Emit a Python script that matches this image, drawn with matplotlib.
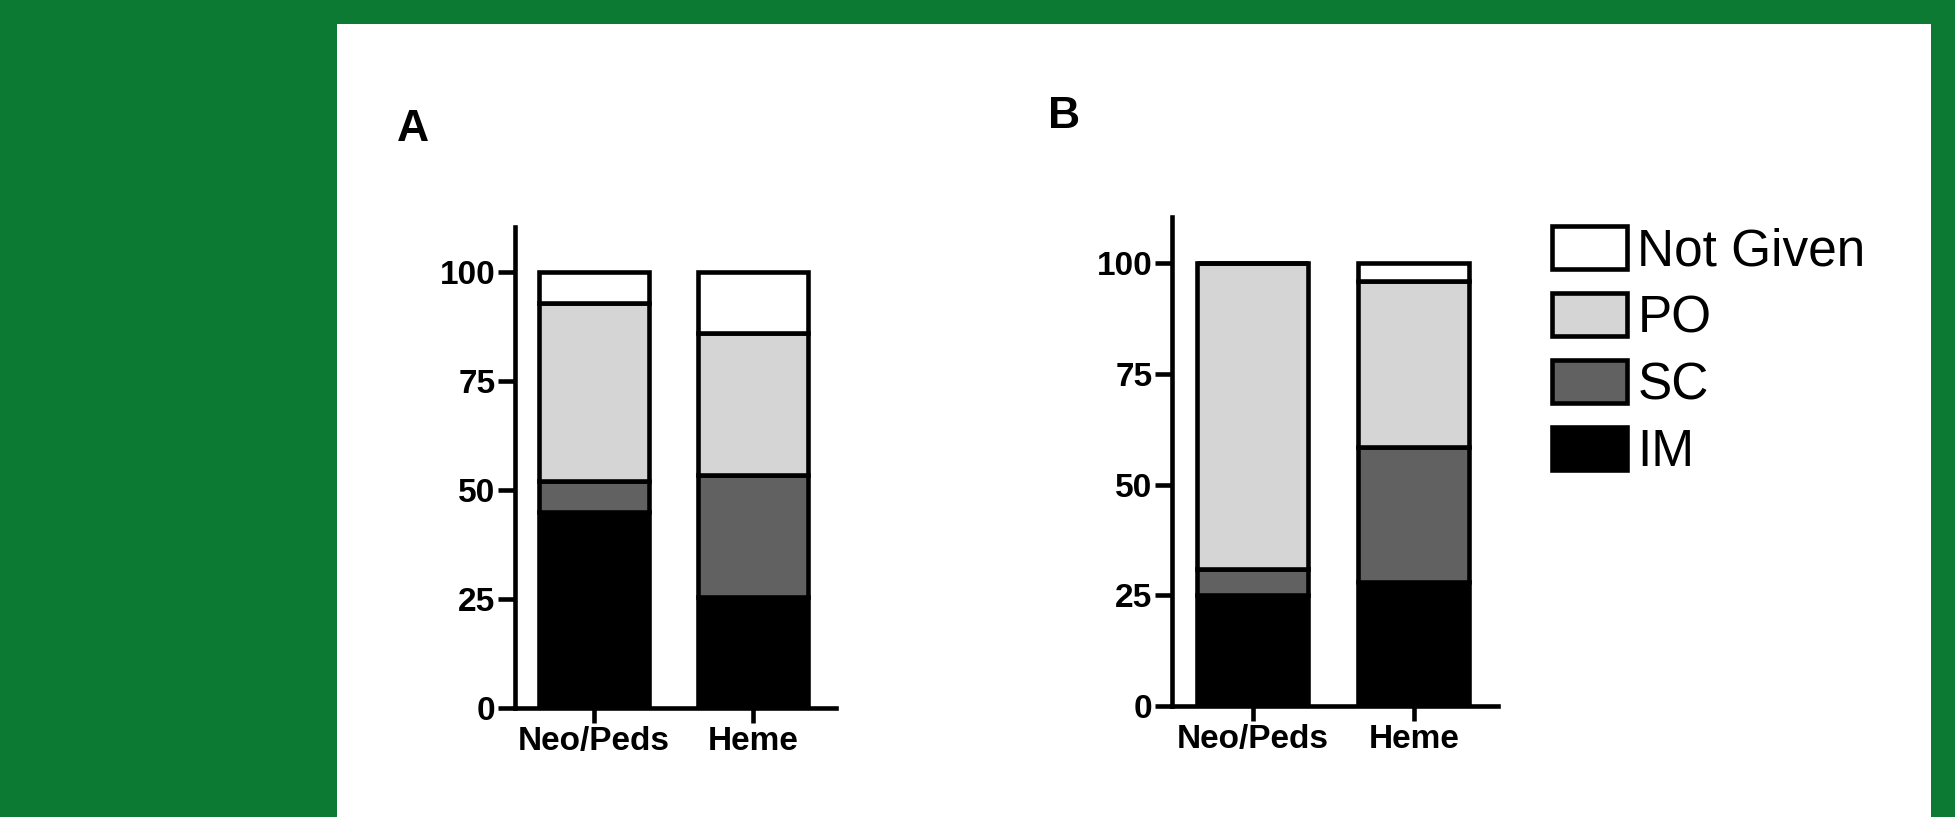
import matplotlib
matplotlib.use("Agg")
import matplotlib.pyplot as plt
from matplotlib.patches import Patch, Rectangle

plt.rcParams['font.family'] = ['Liberation Sans', 'DejaVu Sans']

categories = ["Neo/Peds", "Heme"]
series_names = ["IM", "SC", "PO", "Not Given"]
colors = ["#000000", "#616161", "#d5d5d5", "#ffffff"]

# Panel A values (percent)
a_im = [45, 25.5]
a_sc = [7, 28]
a_po = [41, 32.5]
a_ng = [7, 14]

# Panel B values (percent)
b_im = [25, 28]
b_sc = [6, 30.5]
b_po = [69, 37.5]
b_ng = [0, 4]

yticks = [0, 25, 50, 75, 100]

W, H = 1955, 817
fig = plt.figure(figsize=(W / 100, H / 100), dpi=100)
fig.patch.set_facecolor("#0c7a32")
bg = fig.add_axes([0, 0, 1, 1], zorder=-10)
bg.set_axis_off()
bg.set_xlim(0, 1)
bg.set_ylim(0, 1)
bg.add_patch(Rectangle((337 / W, 0), (1931 - 337) / W, (817 - 24) / H,
                       facecolor="white", edgecolor="none"))


def panel(px_left, px_right, px_bottom, px_top, data, xlim, ylim, width):
    rect = [px_left / W, (H - px_bottom) / H, (px_right - px_left) / W,
            (px_bottom - px_top) / H]
    ax = fig.add_axes(rect, zorder=1)
    ax.set_facecolor("none")
    x = list(range(len(categories)))
    bottoms = [0] * len(categories)
    for vals, c in zip(data, colors):
        ax.bar(x, vals, width=width, bottom=bottoms, color=c, edgecolor="black",
               linewidth=3.3, zorder=2)
        bottoms = [b + v for b, v in zip(bottoms, vals)]
    ax.set_xlim(*xlim)
    ax.set_ylim(*ylim)
    ax.set_yticks(yticks)
    ax.set_xticks(x)
    ax.set_xticklabels(categories)
    for s in ["top", "right"]:
        ax.spines[s].set_visible(False)
    for s in ["left", "bottom"]:
        ax.spines[s].set_linewidth(3.3)
    ax.tick_params(axis="y", length=12, width=3.3, pad=2, labelsize=24)
    ax.tick_params(axis="x", length=11, width=3.3, pad=2, labelsize=24)
    for lab in ax.get_xticklabels() + ax.get_yticklabels():
        lab.set_fontweight("bold")
    return ax


axA = panel(515, 836, 707.5, 226.7, [a_im, a_sc, a_po, a_ng],
            (-0.498, 1.525), (0, 110.5), 0.693)
axB = panel(1171.7, 1498, 706, 217.3, [b_im, b_sc, b_po, b_ng],
            (-0.501, 1.522), (0, 110.4), 0.69)

fig.text(397 / W, (H - 141) / H, "A", fontsize=32, fontweight="bold", ha="left", va="baseline")
fig.text(1048 / W, (H - 128) / H, "B", fontsize=32, fontweight="bold", ha="left", va="baseline")

handles = [Patch(facecolor=c, edgecolor="black", linewidth=3.3) for c in colors][::-1]
labels = series_names[::-1]
fig.legend(handles, labels, loc="upper left", bbox_to_anchor=(1552 / W, (H - 226) / H),
           frameon=False, fontsize=37, handlelength=1.46, handleheight=0.9,
           handletextpad=0.2, labelspacing=0.33, borderpad=0, borderaxespad=0)

fig.savefig("out.png", dpi=100, facecolor=fig.get_facecolor())
